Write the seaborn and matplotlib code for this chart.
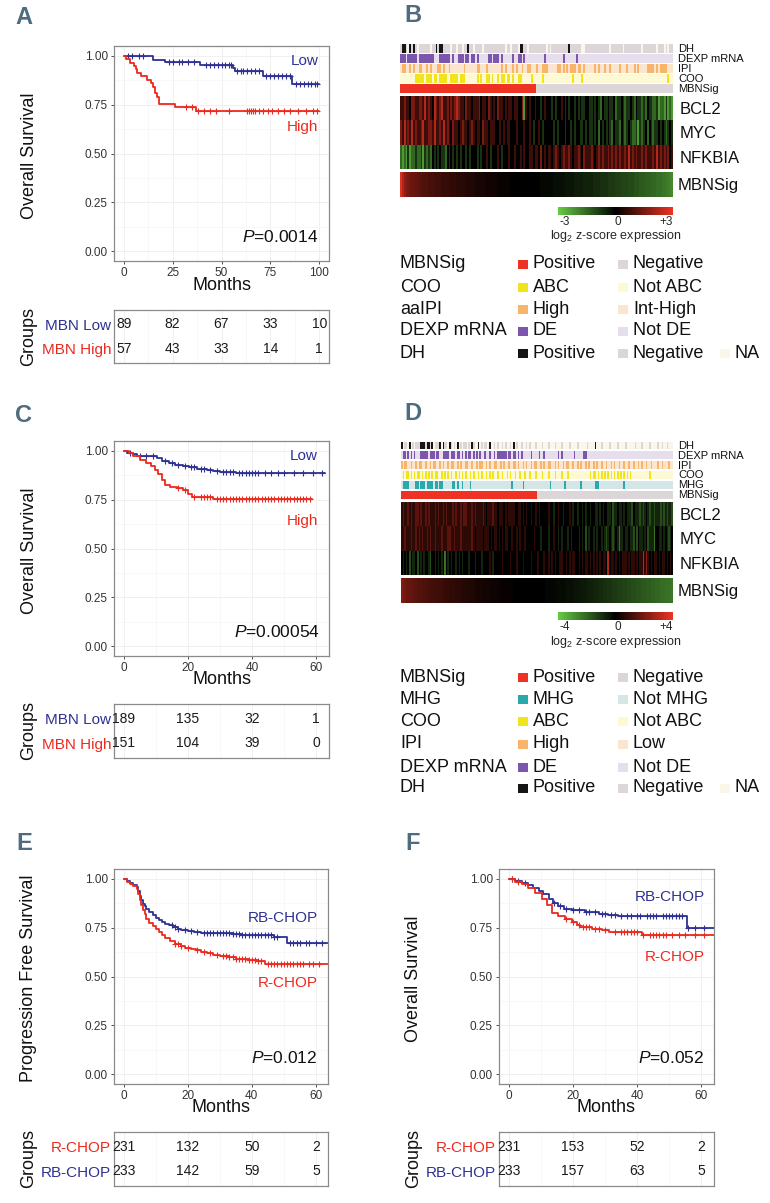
import numpy as np
import pandas as pd
import matplotlib
matplotlib.use("Agg")
import matplotlib.pyplot as plt
import seaborn as sns
from matplotlib.colors import ListedColormap, LinearSegmentedColormap
from matplotlib.patches import Rectangle
from matplotlib.ticker import FixedLocator

sns.set_theme(style="white")
plt.rcParams['font.family'] = ['Liberation Sans', 'DejaVu Sans']
plt.rcParams['mathtext.fontset'] = 'custom'
plt.rcParams['mathtext.rm'] = 'Liberation Sans'
plt.rcParams['mathtext.it'] = 'Liberation Sans:italic'
plt.rcParams['mathtext.bf'] = 'Liberation Sans:bold'

# ------------------------------------------------------------------ DATA
# Panel A (Overall survival, MBN Low / High)
A_low_time = [0, 15, 21, 39, 56, 57, 71, 86, 100]
A_low_surv = [1.0, 0.979, 0.966, 0.955, 0.94, 0.923, 0.899, 0.855, 0.855]
A_low_cens = [2, 4, 8, 10, 23, 25, 28, 30, 33, 36, 42, 44, 46, 48, 50, 52, 54, 55, 58, 60,
              61, 63, 65, 67, 69, 73, 75, 77, 79, 81, 83, 85, 88, 90, 92, 94, 96, 98, 99]
A_high_time = [0, 1, 3, 5, 6, 7, 9, 12, 14, 15, 16, 17, 18, 26, 37, 100]
A_high_surv = [1.0, 0.982, 0.965, 0.947, 0.93, 0.912, 0.895, 0.877, 0.86, 0.842, 0.807,
               0.79, 0.754, 0.737, 0.72, 0.72]
A_high_cens = [32, 35, 38, 41, 44, 47, 54, 63, 64, 65, 66, 67, 69, 71, 74, 76, 79, 82, 85,
               89, 93, 97, 99]
A_risk_times = [0, 25, 50, 75, 100]
A_risk_low = [89, 82, 67, 33, 10]
A_risk_high = [57, 43, 33, 14, 1]

# Panel C
C_low_time = [0, 1, 3, 4, 10.5, 12, 14, 16, 18.5, 20.5, 23, 26, 28, 30, 35, 62.8]
C_low_surv = [1.0, 0.99, 0.983, 0.974, 0.962, 0.950, 0.938, 0.929, 0.922, 0.915, 0.908,
              0.900, 0.897, 0.893, 0.885, 0.885]
C_low_cens = [2, 5, 7, 9, 13, 15, 17, 19, 21, 22, 24, 25, 27, 29, 31, 32, 33, 34, 36, 37,
              38, 39, 40, 41, 42, 44, 46, 48, 50, 53, 56, 59, 62]
C_high_time = [0, 1.5, 3, 5, 7, 8.5, 9.8, 10.8, 11.9, 12.9, 14.5, 16.5, 18.6, 20.2, 21.2,
               22.3, 28, 58.6]
C_high_surv = [1.0, 0.988, 0.971, 0.954, 0.937, 0.92, 0.903, 0.882, 0.851, 0.826, 0.814,
               0.809, 0.797, 0.78, 0.766, 0.761, 0.754, 0.754]
C_high_cens = [17, 19, 22, 24, 25, 26, 27, 29, 30, 31, 32, 33, 34, 35, 36, 37, 38, 39, 40,
               41, 42, 43, 44, 45, 46, 47, 48, 49, 50, 51, 52, 53, 54, 55, 56, 57, 58]
C_risk_times = [0, 20, 40, 60]
C_risk_low = [189, 135, 32, 1]
C_risk_high = [151, 104, 39, 0]

# Panel E (Progression free survival)
E_rb_time = [0, 1, 2, 3, 4, 4.5, 5, 5.5, 6, 6.5, 7, 8, 9, 10, 11, 12, 13, 14, 15.5, 17,
             18, 20, 22, 24, 34, 37, 47, 51, 64]
E_rb_surv = [1.0, 0.99, 0.98, 0.97, 0.96, 0.94, 0.91, 0.89, 0.87, 0.86, 0.845, 0.83, 0.815,
             0.80, 0.79, 0.78, 0.77, 0.762, 0.752, 0.745, 0.74, 0.735, 0.728, 0.722, 0.718,
             0.711, 0.70, 0.672, 0.672]
E_rb_cens = [15, 16, 17, 19, 21, 23, 25, 26, 27, 28, 29, 30, 31, 32, 33, 34, 35, 36, 37, 38,
             39, 40, 41, 42, 43, 44, 45, 46, 47, 48, 52, 53, 54, 55, 57, 58, 60, 62]
E_r_time = [0, 1, 2, 3, 4, 4.5, 5, 5.5, 6, 6.5, 7, 8, 9, 10, 11, 12, 13, 14.5, 16, 18, 19,
            21, 22.5, 24, 26, 28, 30, 33, 35, 39, 42, 44, 64]
E_r_surv = [1.0, 0.985, 0.975, 0.965, 0.95, 0.92, 0.89, 0.865, 0.84, 0.82, 0.795, 0.775,
            0.76, 0.745, 0.73, 0.71, 0.695, 0.68, 0.665, 0.655, 0.648, 0.64, 0.634, 0.626,
            0.618, 0.612, 0.605, 0.598, 0.592, 0.585, 0.578, 0.566, 0.566]
E_r_cens = [16, 17, 18, 20, 23, 25, 27, 29, 31, 32, 33, 34, 35, 36, 37, 38, 39, 40, 41, 42,
            43, 45, 46, 47, 48, 49, 50, 51, 52, 53, 54, 55, 56, 58, 59, 61]
E_risk_times = [0, 20, 40, 60]
E_risk_rchop = [231, 132, 50, 2]
E_risk_rbchop = [233, 142, 59, 5]

# Panel F (Overall survival)
F_rb_time = [0, 2, 4, 6, 7.7, 9.3, 10.8, 12.4, 13.9, 15.5, 17.1, 19.7, 23.8, 28, 31, 34.2,
             55.5, 64]
F_rb_surv = [1.0, 0.988, 0.978, 0.966, 0.952, 0.937, 0.923, 0.894, 0.877, 0.86, 0.846,
             0.838, 0.831, 0.821, 0.814, 0.809, 0.749, 0.749]
F_rb_cens = [1, 3, 5, 14, 16, 18, 20, 22, 24, 25, 27, 29, 30, 32, 33, 35, 37, 38, 40, 41,
             43, 44, 45, 46, 48, 49, 50, 51, 52, 53, 54, 56, 58, 61]
F_r_time = [0, 2, 4, 6.1, 8.2, 10.3, 11.9, 13.4, 15.5, 17.6, 19.7, 21.2, 22.3, 26, 29, 31.1,
            41.5, 64]
F_r_surv = [1.0, 0.983, 0.971, 0.954, 0.928, 0.897, 0.868, 0.826, 0.809, 0.795, 0.778,
            0.766, 0.754, 0.745, 0.737, 0.728, 0.711, 0.711]
F_r_cens = [1, 3, 18, 20, 22, 23, 24, 25, 27, 28, 30, 33, 35, 36, 37, 38, 39, 40, 42, 44,
            45, 46, 47, 48, 49, 51, 53, 55, 58, 61]
F_risk_times = [0, 20, 40, 60]
F_risk_rchop = [231, 153, 52, 2]
F_risk_rbchop = [233, 157, 63, 5]

# Panel B heatmap (146 samples); digit d -> z = (d-5)*0.75
B_genes = ["BCL2", "MYC", "NFKBIA"]
B_BCL2 = "".join(["6676657766", "7768676587", "6786675767", "8766576656", "6675665765",
                  "6576656566", "5665572656", "5565545655", "5454556545", "4554545445",
                  "5445454354", "4544534454", "3445435443", "4354433423", "324232"])
B_MYC = "".join(["7686768676", "6786677686", "6768676576", "6567665676", "5665766566",
                 "6556565665", "5565556556", "5455654555", "5545455545", "5454554454",
                 "5445453545", "4543544354", "3454334243", "4535434454", "543454"])
B_NFKBIA = "".join(["3232423343", "3424343545", "4544354545", "4545545455", "5454556545",
                    "5565455565", "5655656556", "6566575656", "6567656766", "7656676576",
                    "6676567676", "6767676766", "7686767667", "6766676867", "676756"])
B_MBNSig = [2.8, 2.2, 1.8, 1.6, 1.5, 1.4, 1.3, 1.3, 1.2, 1.2,
            1.1, 1.1, 1.0, 1.0, 1.0, 0.9, 0.9, 0.9, 0.8, 0.8,
            0.8, 0.8, 0.7, 0.7, 0.7, 0.7, 0.6, 0.6, 0.6, 0.6,
            0.5, 0.5, 0.5, 0.5, 0.5, 0.4, 0.4, 0.4, 0.4, 0.4,
            0.3, 0.3, 0.3, 0.3, 0.3, 0.3, 0.2, 0.2, 0.2, 0.2,
            0.2, 0.2, 0.1, 0.1, 0.1, 0.1, 0.1, 0.1, 0.1, 0.0,
            0.0, 0.0, 0.0, 0.0, 0.0, 0.0, 0.0, 0.0, 0.0, 0.0,
            0.0, 0.0, 0.0,
            0.0, 0.0, -0.1, -0.1, -0.1, -0.1, -0.1, -0.1, -0.1, -0.2,
            -0.2, -0.2, -0.2, -0.2, -0.2, -0.3, -0.3, -0.3, -0.3, -0.3,
            -0.4, -0.4, -0.4, -0.4, -0.4, -0.5, -0.5, -0.5, -0.5, -0.5,
            -0.6, -0.6, -0.6, -0.6, -0.7, -0.7, -0.7, -0.7, -0.8, -0.8,
            -0.8, -0.8, -0.9, -0.9, -0.9, -1.0, -1.0, -1.0, -1.0, -1.1,
            -1.1, -1.1, -1.2, -1.2, -1.2, -1.3, -1.3, -1.3, -1.4, -1.4,
            -1.4, -1.5, -1.5, -1.5, -1.6, -1.6, -1.6, -1.7, -1.7, -1.8,
            -1.8, -1.9, -2.0]
B_sig_pos_n = 73
B_DH_pos = [1, 2, 5, 7, 19, 21, 22, 36, 64, 65, 90]
B_DH_na = [4, 9, 16, 27, 30, 33, 39, 44, 56, 59, 63, 68, 78, 80, 97, 98, 112, 119, 129,
           137, 141, 143]
B_DE = [0, 1, 2, 4, 5, 6, 7, 8, 10, 11, 12, 13, 14, 15, 16, 17, 21, 22, 23, 24, 25, 26,
        28, 31, 32, 33, 35, 36, 38, 39, 41, 47, 48, 50, 51, 52, 54, 60, 63, 64, 66, 77,
        87, 94]
B_IPI_high = [1, 2, 5, 7, 10, 11, 14, 16, 20, 21, 23, 26, 34, 41, 42, 46, 54, 56, 60, 62,
              65, 68, 69, 73, 76, 77, 78, 84, 85, 87, 89, 91, 92, 93, 95, 96, 98, 104, 106,
              109, 112, 117, 121, 125, 127, 132, 133, 134, 135, 137, 139, 140, 141, 142]
B_COO_abc = [8, 9, 10, 11, 12, 14, 15, 16, 18, 19, 21, 22, 23, 24, 27, 28, 29, 30, 32, 33,
             34, 41, 43, 46, 47, 49, 52, 54, 55, 57, 58, 60, 63, 64, 70, 76, 92, 97, 143]

# Panel D heatmap (170 columns)
D_genes = ["BCL2", "MYC", "NFKBIA"]
D_BCL2 = "".join(["6766767667", "7676676766", "6767667676", "6676766767", "7666767666",
                  "6765666766", "5666565666", "6556656565", "5655656555", "5565545565",
                  "5455565455", "4554545545", "5445454554", "4534454454", "5444354443",
                  "4345434434", "4434343443"])
D_MYC = "".join(["6676667667", "6767667676", "6766676667", "7667666766", "6666765666",
                 "6566656566", "5656566556", "5565655655", "5556555455", "5545565545",
                 "4555454555", "5454535455", "4545545434", "5434542445", "4454435354",
                 "4545344425", "5445454345"])
D_NFKBIA = "".join(["5454535445", "3545455435", "5454545254", "5455454545", "5545554555",
                    "4555565455", "5556555565", "5565556555", "5655565556", "5565656556",
                    "6556565665", "5656566565", "6565656659", "5665656566", "6565665656",
                    "6968656566", "5656656565"])
D_MBNSig = [2.2, 2.0, 1.9, 1.8, 1.7, 1.7, 1.6, 1.6, 1.5, 1.5,
            1.4, 1.4, 1.4, 1.3, 1.3, 1.3, 1.2, 1.2, 1.2, 1.1,
            1.1, 1.1, 1.0, 1.0, 1.0, 1.0, 0.9, 0.9, 0.9, 0.9,
            0.8, 0.8, 0.8, 0.8, 0.7, 0.7, 0.7, 0.7, 0.6, 0.6,
            0.6, 0.6, 0.5, 0.5, 0.5, 0.5, 0.4, 0.4, 0.4, 0.4,
            0.4, 0.3, 0.3, 0.3, 0.3, 0.3, 0.2, 0.2, 0.2, 0.2,
            0.2, 0.2, 0.1, 0.1, 0.1, 0.1, 0.1, 0.1, 0.1, 0.1,
            0.0, 0.0, 0.0, 0.0, 0.0, 0.0, 0.0, 0.0, 0.0, 0.0,
            0.0, 0.0, 0.0, 0.0, 0.0,
            0.0, 0.0, 0.0, 0.0, 0.0, -0.1, -0.1, -0.1, -0.1, -0.1,
            -0.1, -0.1, -0.2, -0.2, -0.2, -0.2, -0.2, -0.2, -0.3, -0.3,
            -0.3, -0.3, -0.3, -0.4, -0.4, -0.4, -0.4, -0.5, -0.5, -0.5,
            -0.5, -0.6, -0.6, -0.6, -0.6, -0.7, -0.7, -0.7, -0.8, -0.8,
            -0.8, -0.9, -0.9, -0.9, -1.0, -1.0, -1.0, -1.1, -1.1, -1.1,
            -1.2, -1.2, -1.2, -1.3, -1.3, -1.3, -1.4, -1.4, -1.4, -1.5,
            -1.5, -1.5, -1.6, -1.6, -1.6, -1.7, -1.7, -1.7, -1.8, -1.8,
            -1.8, -1.9, -1.9, -1.9, -2.0, -2.0, -2.0, -2.1, -2.1, -2.1,
            -2.2, -2.2, -2.2, -2.3, -2.3]
D_sig_pos_n = 85
D_DH_pos = [0, 5, 12, 13, 14, 16, 17, 19, 24, 26, 30, 35, 44, 48, 55, 70, 121]
D_DH_neg = [2, 3, 7, 9, 10, 11, 15, 18, 21, 22, 23, 27, 28, 31, 33, 37, 39, 40, 42, 45,
            50, 52, 53, 58, 60, 63, 65, 68, 72, 75, 78, 80, 84, 88, 92, 96, 100, 105, 110,
            116, 125, 130, 135, 140, 146, 150, 155, 160, 163, 166]
D_DE = [1, 2, 4, 6, 8, 12, 13, 14, 15, 16, 18, 19, 20, 22, 23, 26, 27, 28, 29, 31, 32, 33,
        35, 36, 38, 40, 42, 43, 45, 47, 49, 52, 55, 58, 60, 61, 62, 63, 64, 65, 67, 68,
        70, 71, 73, 75, 81, 86, 89, 98, 100, 108, 114, 115]
D_IPI_high = [0, 2, 3, 6, 9, 11, 12, 15, 18, 20, 21, 24, 26, 29, 31, 32, 35, 37, 40, 41,
              44, 47, 49, 50, 53, 55, 58, 59, 62, 64, 67, 70, 71, 73, 76, 78, 81, 83, 84,
              87, 89, 92, 93, 96, 98, 101, 103, 104, 107, 110, 112, 115, 117, 120, 122,
              125, 128, 131, 133, 136, 139, 142, 145, 148, 150, 153, 156, 160, 163, 167]
D_COO_abc = [1, 3, 4, 6, 8, 10, 11, 13, 15, 17, 19, 21, 22, 25, 27, 29, 31, 34, 36, 38,
             40, 43, 45, 48, 50, 53, 55, 57, 60, 63, 66, 68, 71, 74, 77, 80, 84, 88, 92,
             96, 100, 104, 118, 120, 121, 123, 125, 127, 129, 131, 133, 135, 137, 139,
             141, 143, 155]
D_MHG = [1, 2, 3, 4, 9, 10, 12, 13, 14, 16, 17, 18, 19, 21, 22, 24, 25, 32, 33, 35, 38,
         43, 69, 76, 93, 102, 112, 121, 122, 123, 139]

# Category colours
C_SIG = ["#ee3224", "#dcd6d8"]
C_MHG = ["#2aa9ac", "#d5e6e6"]
C_COO = ["#f2e41c", "#fcf9d4"]
C_IPI = ["#f8b56a", "#fce5cf"]
C_DE = ["#7c55ad", "#e6dded"]
C_DH = ["#151515", "#dcd6d8", "#faf6e9"]

B_legend_names = ["MBNSig", "COO", "aaIPI", "DEXP mRNA", "DH"]
B_legend_items = [[("Positive", C_SIG[0]), ("Negative", C_SIG[1])],
                  [("ABC", C_COO[0]), ("Not ABC", C_COO[1])],
                  [("High", C_IPI[0]), ("Int-High", C_IPI[1])],
                  [("DE", C_DE[0]), ("Not DE", C_DE[1])],
                  [("Positive", C_DH[0]), ("Negative", C_DH[1]), ("NA", C_DH[2])]]
D_legend_names = ["MBNSig", "MHG", "COO", "IPI", "DEXP mRNA", "DH"]
D_legend_items = [[("Positive", C_SIG[0]), ("Negative", C_SIG[1])],
                  [("MHG", C_MHG[0]), ("Not MHG", C_MHG[1])],
                  [("ABC", C_COO[0]), ("Not ABC", C_COO[1])],
                  [("High", C_IPI[0]), ("Low", C_IPI[1])],
                  [("DE", C_DE[0]), ("Not DE", C_DE[1])],
                  [("Positive", C_DH[0]), ("Negative", C_DH[1]), ("NA", C_DH[2])]]

BLUE = "#2e3192"
RED = "#ec2a1f"
Y_TICKS = [0.0, 0.25, 0.5, 0.75, 1.0]

# ------------------------------------------------------------------ FIGURE
W, H = 770, 1203
fig = plt.figure(figsize=(W / 100, H / 100), dpi=100)
fig.patch.set_facecolor("white")


def add_ax(x0, y0, x1, y1):
    return fig.add_axes([x0 / W, 1 - y1 / H, (x1 - x0) / W, (y1 - y0) / H])


def ftext(x, y, s, **kw):
    return fig.text(x / W, 1 - y / H, s, **kw)


def style_frame(ax):
    for sp in ax.spines.values():
        sp.set_visible(True)
        sp.set_color("#8a8a8a")
        sp.set_linewidth(0.9)


def minor_mid(ticks):
    return [(a + b) / 2 for a, b in zip(ticks[:-1], ticks[1:])]


def km_panel(box, xlim, xticks, curves, texts, ptxt, ploc, ylab, ylab_x, months_y):
    x0, y0, x1, y1 = box
    ax = add_ax(x0, y0, x1, y1)
    ax.set_facecolor("white")
    for t, s, cens, col in curves:
        df = pd.DataFrame({"Months": t, "Survival": s})
        sns.lineplot(data=df, x="Months", y="Survival", drawstyle="steps-post",
                     color=col, linewidth=1.3, estimator=None, sort=False, ax=ax)
        c = np.asarray(cens, float)
        idx = np.searchsorted(np.asarray(t, float), c, side="right") - 1
        ax.plot(c, np.asarray(s)[idx], ls="none", marker="+", ms=4.2, mew=0.8, color=col)
    ax.set_xlim(*xlim)
    ax.set_ylim(-0.05, 1.05)
    ax.set_xticks(xticks)
    ax.set_xticklabels([str(v) for v in xticks])
    ax.set_yticks(Y_TICKS)
    ax.set_yticklabels([f"{v:.2f}" for v in Y_TICKS])
    ax.xaxis.set_minor_locator(FixedLocator(minor_mid(xticks)))
    ax.yaxis.set_minor_locator(FixedLocator(minor_mid(Y_TICKS)))
    ax.grid(True, which="major", color="#eeeeee", lw=0.6)
    ax.grid(True, which="minor", color="#f6f6f6", lw=0.5)
    ax.tick_params(which="major", labelsize=8.5, colors="#333333", length=2.5, width=0.6,
                   pad=2, bottom=True, left=True)
    ax.tick_params(which="minor", length=0)
    ax.set_xlabel("")
    ax.set_ylabel("")
    style_frame(ax)
    for tx, ty, s, col in texts:
        ax.text(tx, ty, s, color=col, fontsize=11, ha="right", va="center")
    ax.text(ploc[0], ploc[1], ptxt, color="#111111", fontsize=12.5, ha="right", va="center")
    ftext(ylab_x, (y0 + y1) / 2 + 2, ylab, rotation=90, ha="center", va="center",
          fontsize=13, color="#111111")
    ftext((x0 + x1) / 2, months_y, "Months", ha="center", va="center", fontsize=13,
          color="#111111")
    return ax


def risk_table(box, xlim, xticks, groups, colors, counts, ylab_x):
    x0, y0, x1, y1 = box
    ax = add_ax(x0, y0, x1, y1)
    ax.set_xlim(*xlim)
    ax.set_ylim(1.6, -0.6)
    for i, row in enumerate(counts):
        for x, n in zip(xticks, row):
            ax.text(x, i, str(n), ha="center", va="center", fontsize=10, color="#1a1a1a")
    ax.set_yticks(range(len(groups)))
    ax.set_yticklabels(groups, fontsize=11)
    for lab, col in zip(ax.get_yticklabels(), colors):
        lab.set_color(col)
    ax.set_xticks(xticks)
    ax.xaxis.set_minor_locator(FixedLocator(minor_mid(xticks)))
    ax.tick_params(axis="x", which="both", length=0, labelbottom=False)
    ax.tick_params(axis="y", length=0, pad=2)
    ax.grid(True, axis="x", which="major", color="#eeeeee", lw=0.6)
    ax.grid(True, axis="x", which="minor", color="#f6f6f6", lw=0.5)
    style_frame(ax)
    ftext(ylab_x, (y0 + y1) / 2, "Groups", rotation=90, ha="center", va="center",
          fontsize=13, color="#111111")
    return ax


def panel_label(x, y, s):
    ftext(x, y, s, fontsize=17, fontweight="bold", color="#4f6b80",
          family=["Liberation Sans Narrow", "Liberation Sans", "DejaVu Sans"],
          ha="center", va="center")


def make_track(n, default, assign):
    codes = np.full(n, default)
    for code, idx in assign:
        codes[np.asarray(idx, int)] = code
    return codes


HEAT_CMAP = LinearSegmentedColormap.from_list("gkr", ["#66cc44", "#000000", "#ee3322"])


def decode(s):
    return [(int(c) - 5) * 0.75 for c in s]


def heat_section(x0, x1, top, pitch, tr_h, tracks, heat_y, genes, rows, sig_y, sig,
                 vmax, cbar_box, tick_y, cap_y):
    for i, (name, codes, colors) in enumerate(tracks):
        ty = top + i * pitch
        ax = add_ax(x0, ty, x1, ty + tr_h)
        sns.heatmap(np.asarray(codes)[None, :], cmap=ListedColormap(colors), vmin=-0.5,
                    vmax=len(colors) - 0.5, cbar=False, xticklabels=False,
                    yticklabels=False, ax=ax)
        ftext(x1 + 5, ty + tr_h / 2 + 0.5, name, fontsize=8, ha="left", va="center",
              color="#111111")
    hx = add_ax(x0, heat_y[0], x1, heat_y[1])
    df = pd.DataFrame([decode(r) for r in rows], index=genes)
    sns.heatmap(df, cmap=HEAT_CMAP, vmin=-vmax, vmax=vmax, cbar=False, xticklabels=False,
                yticklabels=True, ax=hx)
    hx.yaxis.tick_right()
    hx.tick_params(axis="y", length=0, pad=5, labelsize=12, rotation=0, labelright=True,
                   labelleft=False, colors="#111111")
    sx = add_ax(x0, sig_y[0], x1, sig_y[1])
    sns.heatmap(np.asarray(sig)[None, :], cmap=HEAT_CMAP, vmin=-vmax, vmax=vmax,
                cbar=False, xticklabels=False, yticklabels=False, ax=sx)
    ftext(x1 + 5, (sig_y[0] + sig_y[1]) / 2 + 1, "MBNSig", fontsize=12, ha="left",
          va="center", color="#111111")
    cax = add_ax(*cbar_box)
    cb = fig.colorbar(hx.collections[0], cax=cax, orientation="horizontal",
                      ticks=[-vmax, 0, vmax])
    cb.outline.set_visible(False)
    cax.set_xticklabels([])
    cax.tick_params(length=0)
    ftext(cbar_box[0] + 1, tick_y, f"-{vmax}", fontsize=8.5, ha="left", va="center")
    ftext((cbar_box[0] + cbar_box[2]) / 2 + 2, tick_y, "0", fontsize=8.5, ha="center",
          va="center")
    ftext(cbar_box[2], tick_y, f"+{vmax}", fontsize=8.5, ha="right", va="center")
    ftext((cbar_box[0] + cbar_box[2]) / 2, cap_y, r"log$_2$ z-score expression",
          fontsize=9, ha="center", va="center")


def legend_block(x_lab, x_items, ys, names, items):
    for y, name, row in zip(ys, names, items):
        ftext(x_lab, y, name, fontsize=13, ha="left", va="center", color="#111111")
        for xi, (lab, col) in zip(x_items, row):
            fig.add_artist(Rectangle((xi / W, 1 - (y + 4.5) / H), 10 / W, 9 / H,
                                     transform=fig.transFigure, facecolor=col,
                                     edgecolor="none"))
            ftext(xi + 15, y, lab, fontsize=13, ha="left", va="center", color="#111111")


# ---------------- Panel A
panel_label(24, 17, "A")
km_panel((114, 46, 329, 261), (-5, 105), A_risk_times,
         [(A_low_time, A_low_surv, A_low_cens, BLUE),
          (A_high_time, A_high_surv, A_high_cens, RED)],
         [(99.5, 0.973, "Low", BLUE), (99.5, 0.634, "High", RED)],
         r"$\mathit{P}$=0.0014", (99.5, 0.075), "Overall Survival", 29, 286)
risk_table((114, 310, 329, 363), (-5, 105), A_risk_times, ["MBN Low", "MBN High"],
           [BLUE, RED], [A_risk_low, A_risk_high], 29)

# ---------------- Panel C
panel_label(24, 415, "C")
km_panel((114, 441, 329, 656), (-3.05, 64.05), C_risk_times,
         [(C_low_time, C_low_surv, C_low_cens, BLUE),
          (C_high_time, C_high_surv, C_high_cens, RED)],
         [(60.6, 0.974, "Low", BLUE), (60.6, 0.64, "High", RED)],
         r"$\mathit{P}$=0.00054", (61.2, 0.072), "Overall Survival", 29, 680)
risk_table((114, 704, 329, 758), (-3.05, 64.05), C_risk_times, ["MBN Low", "MBN High"],
           [BLUE, RED], [C_risk_low, C_risk_high], 29)

# ---------------- Panel E
panel_label(24, 843, "E")
km_panel((114, 869, 328, 1084), (-3.05, 63.8), E_risk_times,
         [(E_rb_time, E_rb_surv, E_rb_cens, BLUE),
          (E_r_time, E_r_surv, E_r_cens, RED)],
         [(60.6, 0.80, "RB-CHOP", BLUE), (60.6, 0.467, "R-CHOP", RED)],
         r"$\mathit{P}$=0.012", (60.6, 0.082), "Progression Free Survival", 29, 1108)
risk_table((114, 1132, 328, 1186), (-3.05, 63.8), E_risk_times, ["R-CHOP", "RB-CHOP"],
           [RED, BLUE], [E_risk_rchop, E_risk_rbchop], 29)

# ---------------- Panel F
panel_label(413, 843, "F")
km_panel((499, 869, 714, 1084), (-3.05, 64.0), F_risk_times,
         [(F_rb_time, F_rb_surv, F_rb_cens, BLUE),
          (F_r_time, F_r_surv, F_r_cens, RED)],
         [(61.0, 0.908, "RB-CHOP", BLUE), (61.0, 0.60, "R-CHOP", RED)],
         r"$\mathit{P}$=0.052", (61.0, 0.082), "Overall Survival", 414, 1108)
risk_table((499, 1132, 714, 1186), (-3.05, 64.0), F_risk_times, ["R-CHOP", "RB-CHOP"],
           [RED, BLUE], [F_risk_rchop, F_risk_rbchop], 414)

# ---------------- Panel B
panel_label(413, 16, "B")
nB = len(B_MBNSig)
B_tracks = [
    ("DH", make_track(nB, 1, [(0, B_DH_pos), (2, B_DH_na)]), C_DH),
    ("DEXP mRNA", make_track(nB, 1, [(0, B_DE)]), C_DE),
    ("IPI", make_track(nB, 1, [(0, B_IPI_high)]), C_IPI),
    ("COO", make_track(nB, 1, [(0, B_COO_abc)]), C_COO),
    ("MBNSig", make_track(nB, 1, [(0, list(range(B_sig_pos_n)))]), C_SIG),
]
heat_section(400, 673, 44, 10, 8.8, B_tracks, (96, 169), B_genes,
             [B_BCL2, B_MYC, B_NFKBIA], (172, 197), B_MBNSig, 3,
             (558, 207, 673, 215), 222, 236)
legend_block(400, [518, 618, 720], [264, 287, 309, 331, 353], B_legend_names,
             B_legend_items)

# ---------------- Panel D
panel_label(413, 414, "D")
nD = len(D_MBNSig)
D_tracks = [
    ("DH", make_track(nD, 2, [(1, D_DH_neg), (0, D_DH_pos)]), C_DH),
    ("DEXP mRNA", make_track(nD, 1, [(0, D_DE)]), C_DE),
    ("IPI", make_track(nD, 1, [(0, D_IPI_high)]), C_IPI),
    ("COO", make_track(nD, 1, [(0, D_COO_abc)]), C_COO),
    ("MHG", make_track(nD, 1, [(0, D_MHG)]), C_MHG),
    ("MBNSig", make_track(nD, 1, [(0, list(range(D_sig_pos_n)))]), C_SIG),
]
heat_section(401, 673, 441.5, 9.8, 8.0, D_tracks, (502, 575), D_genes,
             [D_BCL2, D_MYC, D_NFKBIA], (578, 603), D_MBNSig, 4,
             (558, 612, 673, 620), 627, 642)
legend_block(400, [518, 618, 720], [677, 699, 721, 744, 767, 788], D_legend_names,
             D_legend_items)

fig.savefig("out.png", dpi=100, facecolor="white")
